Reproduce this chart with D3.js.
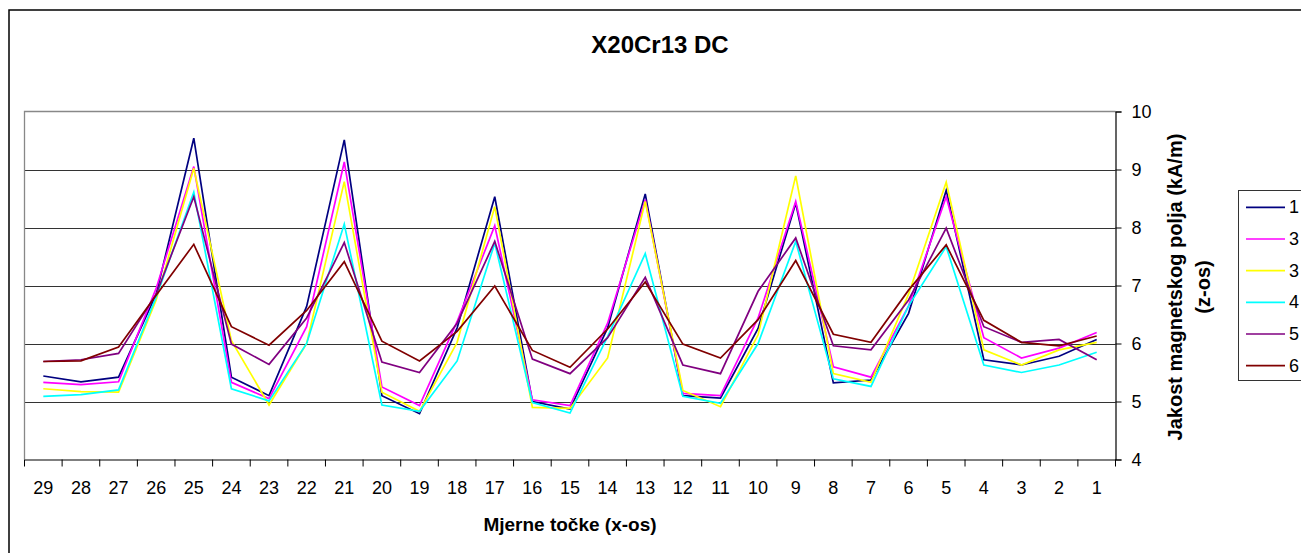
<!DOCTYPE html>
<html><head><meta charset="utf-8">
<script src="https://cdn.jsdelivr.net/npm/d3@7"></script>
<style>
html,body{margin:0;padding:0;background:#fff;overflow:hidden}
text{font-family:"Liberation Sans",Arial,sans-serif}
</style></head>
<body><svg id="c" width="1301" height="553"></svg>
<script>
const categories = ["29","28","27","26","25","24","23","22","21","20","19","18","17","16","15","14","13","12","11","10","9","8","7","6","5","4","3","2","1"];
const seriesNames = ["1","3","3","4","5","6"];
const seriesColors = ["#000080","#FF00FF","#FFFF00","#00FFFF","#800080","#800000"];
const s1 = [5.44,5.34,5.42,6.85,9.54,5.42,5.10,6.64,9.51,5.10,4.79,6.27,8.53,5.00,4.87,6.27,8.58,5.10,5.06,6.26,8.42,5.32,5.37,6.52,8.64,5.72,5.63,5.78,6.07];
const s2 = [5.33,5.29,5.34,6.95,9.05,5.33,5.05,6.29,9.13,5.25,4.93,6.38,8.03,5.03,4.93,6.35,8.48,5.14,5.10,6.44,8.45,5.60,5.42,6.65,8.53,6.10,5.75,5.92,6.19];
const s3 = [5.22,5.17,5.16,6.75,9.02,6.05,4.94,6.00,8.79,5.16,4.83,6.02,8.36,4.90,4.88,5.75,8.45,5.19,4.91,6.15,8.89,5.48,5.33,6.85,8.78,5.89,5.63,5.89,6.02];
const s4 = [5.09,5.12,5.20,6.80,8.61,5.22,5.01,6.00,8.06,4.94,4.83,5.70,7.73,4.98,4.80,6.12,7.55,5.09,4.97,6.00,7.76,5.39,5.26,6.65,7.67,5.63,5.50,5.63,5.85];
const s5 = [5.69,5.72,5.83,6.85,8.53,5.99,5.64,6.44,7.74,5.68,5.50,6.35,7.76,5.73,5.48,6.10,7.14,5.63,5.48,6.90,7.82,5.96,5.89,6.75,7.99,6.29,6.02,6.07,5.72];
const s6 = [5.69,5.70,5.94,6.83,7.71,6.29,5.97,6.57,7.41,6.04,5.70,6.21,6.99,5.88,5.59,6.25,7.06,5.99,5.75,6.41,7.43,6.16,6.02,6.92,7.70,6.40,6.02,5.96,6.13];
const yTicks = [4,5,6,7,8,9,10];
const title = "X20Cr13 DC";
const xTitle = "Mjerne točke (x-os)";
const yTitle1 = "Jakost magnetskog polja (kA/m)";
const yTitle2 = "(z-os)";

const series = [s1,s2,s3,s4,s5,s6];
const svg = d3.select("#c");
const L = 24.5, R = 1115.5, T = 111.5, B = 459.5;

// outer border
svg.append("rect").attr("x",9).attr("y",10).attr("width",1400).attr("height",600)
  .attr("fill","#fff").attr("stroke","#000").attr("stroke-width",1.5);

const x = d3.scaleBand().domain(categories).range([L,R]).padding(0);
const y = d3.scaleLinear().domain([4,10]).range([B,T]);

// gridlines
svg.append("g").selectAll("line").data(yTicks.filter(v=>v>4 && v<10)).join("line")
  .attr("x1",L).attr("x2",R).attr("y1",d=>Math.round(y(d))+0.5).attr("y2",d=>Math.round(y(d))+0.5)
  .attr("stroke","#333").attr("stroke-width",1);

// plot area top/left border (gray)
svg.append("path").attr("d",`M${L},${B}V${T}H${R}`).attr("fill","none").attr("stroke","#888").attr("stroke-width",1.3);

// x axis
const xAxis = svg.append("g").attr("transform",`translate(0,${B})`)
  .call(d3.axisBottom(x).tickSize(0).tickPadding(22));
xAxis.select(".domain").attr("stroke","#000").attr("stroke-width",1.2);
xAxis.selectAll("text").attr("font-size",18).attr("fill","#000").attr("font-family","Liberation Sans, Arial");
// boundary ticks
const bounds = d3.range(categories.length+1).map(i=>L + i*x.step());
svg.append("g").selectAll("line").data(bounds).join("line")
  .attr("x1",d=>d).attr("x2",d=>d).attr("y1",B).attr("y2",B+7).attr("stroke","#000").attr("stroke-width",1);

// y axis right
const yAxis = svg.append("g").attr("transform",`translate(${R},0)`)
  .call(d3.axisRight(y).tickValues(yTicks).tickSize(6).tickPadding(10).tickFormat(d3.format("d")));
yAxis.select(".domain").attr("stroke","#000").attr("stroke-width",1.2);
yAxis.selectAll(".tick line").attr("stroke","#000");
yAxis.selectAll("text").attr("font-size",18).attr("fill","#000").attr("font-family","Liberation Sans, Arial");

// lines
const line = d3.line().x((d,i)=>x(categories[i])+x.bandwidth()/2).y(d=>y(d));
svg.append("g").selectAll("path").data(series).join("path")
  .attr("d",d=>line(d)).attr("fill","none")
  .attr("stroke",(d,i)=>seriesColors[i]).attr("stroke-width",1.7).attr("stroke-linejoin","miter");

// titles
svg.append("text").attr("x",660).attr("y",44).attr("text-anchor","middle").attr("dominant-baseline","central")
  .attr("font-size",24).attr("font-weight","bold").text(title);
svg.append("text").attr("x",570).attr("y",524).attr("text-anchor","middle").attr("dominant-baseline","central")
  .attr("font-size",19).attr("font-weight","bold").text(xTitle);
const yt = svg.append("g").attr("transform",`translate(1188,287) rotate(-90)`);
yt.append("text").attr("x",0).attr("y",-13).attr("text-anchor","middle").attr("dominant-baseline","central")
  .attr("font-size",20).attr("font-weight","bold").text(yTitle1);
yt.append("text").attr("x",0).attr("y",15).attr("text-anchor","middle").attr("dominant-baseline","central")
  .attr("font-size",20).attr("font-weight","bold").text(yTitle2);

// legend
const lg = svg.append("g");
lg.append("rect").attr("x",1238.5).attr("y",190.5).attr("width",120).attr("height",190)
  .attr("fill","#fff").attr("stroke","#333").attr("stroke-width",1);
const ly = d3.scaleLinear().domain([0,5]).range([207.3,365.7]);
seriesNames.forEach((n,i)=>{
  lg.append("line").attr("x1",1246).attr("x2",1285).attr("y1",ly(i)).attr("y2",ly(i))
    .attr("stroke",seriesColors[i]).attr("stroke-width",1.7);
  lg.append("text").attr("x",1289).attr("y",ly(i)).attr("dominant-baseline","central")
    .attr("font-size",18).text(n);
});
</script></body></html>
